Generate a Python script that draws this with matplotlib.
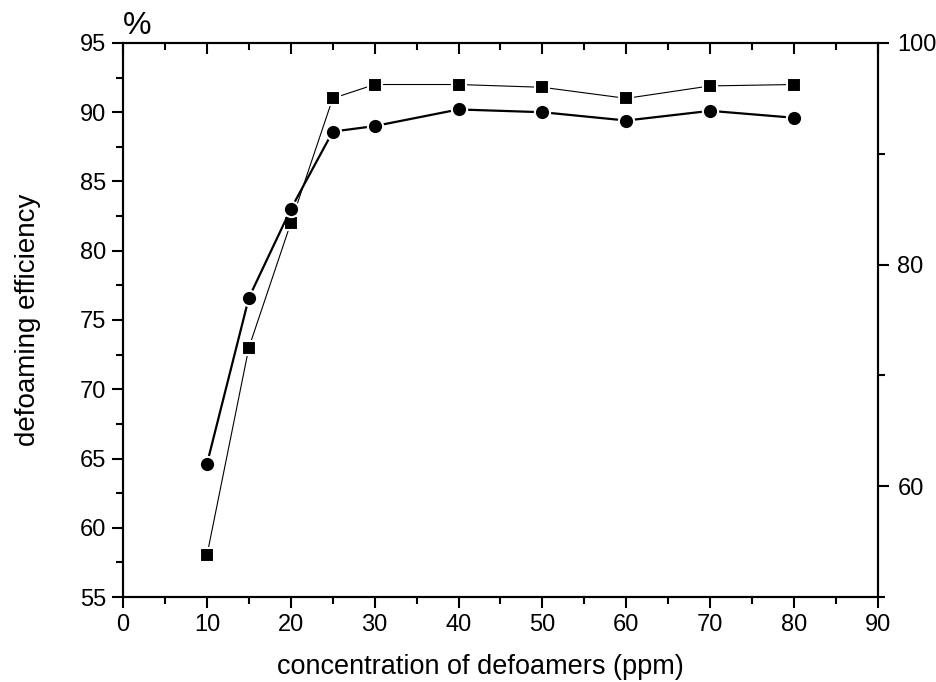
import matplotlib
matplotlib.use('Agg')
import matplotlib.pyplot as plt
from matplotlib.ticker import MultipleLocator

plt.rcParams['font.family'] = ['Liberation Sans', 'DejaVu Sans']

conc = [10, 15, 20, 25, 30, 40, 50, 60, 70, 80]
eff_square = [58.0, 73.0, 82.0, 91.0, 92.0, 92.0, 91.8, 91.0, 91.9, 92.0]
eff_circle = [64.6, 76.6, 83.0, 88.6, 89.0, 90.2, 90.0, 89.4, 90.1, 89.6]

fig = plt.figure(figsize=(9.37, 6.82), dpi=100)
ax = fig.add_axes([0.1313, 0.1246, 0.8057, 0.8124])

ax.plot(conc, eff_square, '-s', color='black', lw=0.8, ms=10,
        mfc='black', mec='white', mew=1.5)
ax.plot(conc, eff_circle, '-o', color='black', lw=1.6, ms=11,
        mfc='black', mec='white', mew=1.5)

ax.set_xlim(0, 90)
ax.set_ylim(55, 95)
ax.xaxis.set_major_locator(MultipleLocator(10))
ax.xaxis.set_minor_locator(MultipleLocator(5))
ax.yaxis.set_major_locator(MultipleLocator(5))
ax.yaxis.set_minor_locator(MultipleLocator(2.5))
ax.tick_params(which='both', direction='out', width=1.5, labelsize=17,
               top=True, right=False)
ax.tick_params(which='major', length=8, pad=4)
ax.tick_params(which='minor', length=5)
# ticks on top point inward
for t in ax.xaxis.get_major_ticks() + ax.xaxis.get_minor_ticks():
    t.tick2line.set_marker(3)
for sp in ax.spines.values():
    sp.set_linewidth(1.5)

ax.set_xlabel('concentration of defoamers (ppm)', fontsize=19.5, labelpad=13)
ax.xaxis.label.set_x(0.474)
ax.set_ylabel('defoaming efficiency', fontsize=20, labelpad=28)
ax.text(0.0, 1.003, '%', transform=ax.transAxes, fontsize=23,
        ha='left', va='bottom')

ax2 = ax.twinx()
ax2.set_ylim(50, 100)
ax2.yaxis.set_major_locator(MultipleLocator(20))
ax2.yaxis.set_minor_locator(MultipleLocator(10))
ax2.tick_params(which='both', direction='out', width=1.5, labelsize=17)
ax2.tick_params(which='major', length=8, pad=6)
ax2.tick_params(which='minor', length=5)
for sp in ax2.spines.values():
    sp.set_linewidth(1.5)

fig.savefig('out.png', dpi=100)
